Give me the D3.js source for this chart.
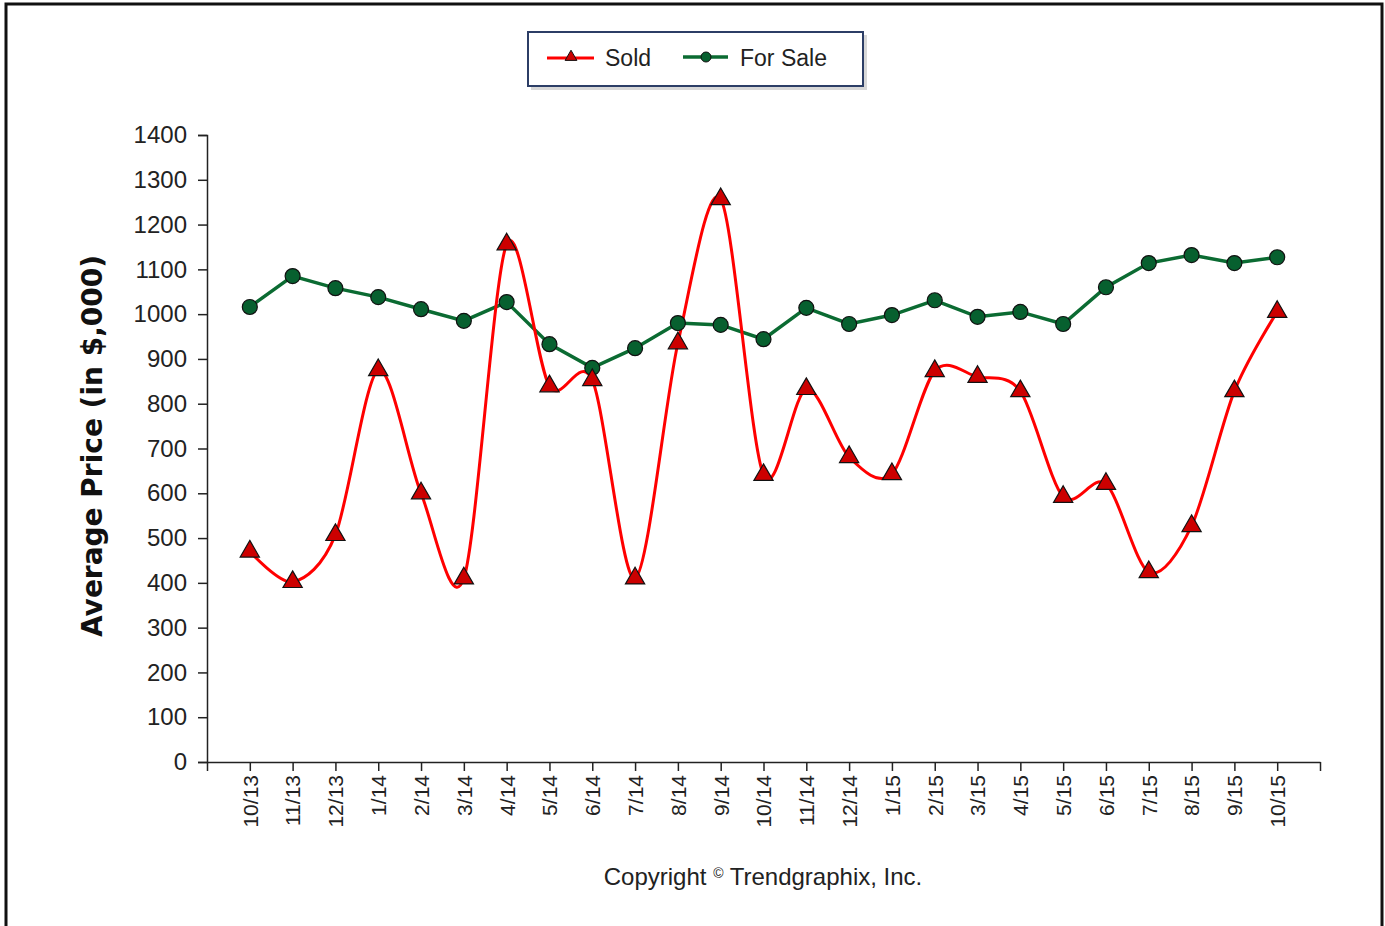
<!DOCTYPE html>
<html lang="en">
  <head>
    <meta charset="UTF-8" />
    <title>Average Price: Sold vs For Sale</title>
    <script src="https://d3js.org/d3.v7.min.js"></script>
    <style>
      body {
        margin: 0;
        background: #fff;
        font-family: 'Liberation Sans', Arial, sans-serif;
      }
      .tick text {
        fill: #222;
      }
    </style>
  </head>
  <body>
    <svg width="1385" height="926"></svg>

    <script>
      const months = [
        '10/13', '11/13', '12/13', '1/14', '2/14', '3/14', '4/14', '5/14', '6/14',
        '7/14', '8/14', '9/14', '10/14', '11/14', '12/14', '1/15', '2/15', '3/15',
        '4/15', '5/15', '6/15', '7/15', '8/15', '9/15', '10/15',
      ];
      const sold = [
        470, 402, 507, 875, 600, 410, 1156, 839, 853, 410, 935, 1257, 641,
        833, 681, 643, 873, 860, 828, 592, 621, 424, 527, 828, 1005,
      ];
      const forSale = [
        1016, 1085, 1058, 1038, 1011, 985, 1027, 933, 880, 924, 980, 976, 944,
        1014, 978, 998, 1031, 994, 1005, 978, 1060, 1114, 1132, 1114, 1127,
      ];
      const yTicks = [0, 100, 200, 300, 400, 500, 600, 700, 800, 900, 1000, 1100, 1200, 1300, 1400];

      const svg = d3.select('svg');

      // outer frame
      svg.append('rect')
        .attr('x', 6).attr('y', 4)
        .attr('width', 1376).attr('height', 940)
        .attr('fill', 'none')
        .attr('stroke', '#111')
        .attr('stroke-width', 3);

      const plotL = 207, plotR = 1320, plotT = 135, plotB = 762;

      // slot scale: index 0..26 across the axis, categories sit at 1..25
      const x = d3.scaleLinear().domain([0, months.length + 1]).range([plotL, plotR]);
      const y = d3.scaleLinear().domain([0, 1400]).range([plotB, plotT]);

      // y axis
      const yAxis = svg.append('g')
        .attr('transform', `translate(${plotL},0)`)
        .call(d3.axisLeft(y).tickValues(yTicks).tickFormat(d3.format('d')).tickSize(9).tickPadding(11));
      yAxis.selectAll('text').style('font-size', '24px').style('font-family', "'Liberation Sans', Arial, sans-serif");
      yAxis.selectAll('line, path').attr('stroke', '#222').attr('stroke-width', 1.5);

      // x axis
      const xAxis = svg.append('g')
        .attr('transform', `translate(0,${plotB})`)
        .call(
          d3.axisBottom(x)
            .tickValues(d3.range(0, months.length + 2))
            .tickSize(9)
            .tickSizeOuter(0)
            .tickFormat((d) => (d >= 1 && d <= months.length ? months[d - 1] : ''))
        );
      xAxis.selectAll('line, path').attr('stroke', '#222').attr('stroke-width', 1.5);
      xAxis.selectAll('text')
        .style('font-size', '21px')
        .style('font-family', "'Liberation Sans', Arial, sans-serif")
        .attr('transform', 'rotate(-90)')
        .attr('text-anchor', 'end')
        .attr('x', -13)
        .attr('y', 0)
        .attr('dy', '0.35em');

      // y axis title
      svg.append('text')
        .attr('transform', 'rotate(-90)')
        .attr('x', -446)
        .attr('y', 102)
        .attr('text-anchor', 'middle')
        .style('font-size', '28px')
        .style('font-weight', 'bold')
        .style('font-family', "'DejaVu Sans', Verdana, sans-serif")
        .attr('fill', '#111')
        .text('Average Price (in $,000)');

      // For Sale line
      const lineStraight = d3.line()
        .x((d, i) => x(i + 1))
        .y((d) => y(d));
      svg.append('path')
        .datum(forSale)
        .attr('d', lineStraight)
        .attr('fill', 'none')
        .attr('stroke', '#0b6b32')
        .attr('stroke-width', 3.5);

      // Sold spline
      const lineSpline = d3.line()
        .x((d, i) => x(i + 1))
        .y((d) => y(d))
        .curve(d3.curveCardinal.tension(0.1));
      svg.append('path')
        .datum(sold)
        .attr('d', lineSpline)
        .attr('fill', 'none')
        .attr('stroke', '#ff0000')
        .attr('stroke-width', 3);

      // markers
      svg.append('g')
        .selectAll('circle')
        .data(forSale)
        .enter()
        .append('circle')
        .attr('cx', (d, i) => x(i + 1))
        .attr('cy', (d) => y(d))
        .attr('r', 7.5)
        .attr('fill', '#07602f')
        .attr('stroke', '#111')
        .attr('stroke-width', 1.2);

      const tri = d3.symbol().type(d3.symbolTriangle).size(160);
      svg.append('g')
        .selectAll('path')
        .data(sold)
        .enter()
        .append('path')
        .attr('d', tri)
        .attr('transform', (d, i) => `translate(${x(i + 1)},${y(d)})`)
        .attr('fill', '#cc0000')
        .attr('stroke', '#111')
        .attr('stroke-width', 1.2);

      // legend
      const lg = svg.append('g');
      lg.append('rect')
        .attr('x', 531).attr('y', 35)
        .attr('width', 336).attr('height', 55)
        .attr('fill', '#c8c8c8')
        .attr('opacity', 0.7);
      lg.append('rect')
        .attr('x', 528).attr('y', 32)
        .attr('width', 335).attr('height', 54)
        .attr('fill', '#fff')
        .attr('stroke', '#2c3e66')
        .attr('stroke-width', 2);

      lg.append('line')
        .attr('x1', 547).attr('x2', 594).attr('y1', 58).attr('y2', 58)
        .attr('stroke', '#ff0000').attr('stroke-width', 3);
      lg.append('path')
        .attr('d', d3.symbol().type(d3.symbolTriangle).size(60))
        .attr('transform', 'translate(571,57)')
        .attr('fill', '#cc0000').attr('stroke', '#111').attr('stroke-width', 1);
      lg.append('text')
        .attr('x', 605).attr('y', 66)
        .style('font-size', '23px')
        .attr('fill', '#222')
        .text('Sold');

      lg.append('line')
        .attr('x1', 683).attr('x2', 728).attr('y1', 57).attr('y2', 57)
        .attr('stroke', '#0b6b32').attr('stroke-width', 3.5);
      lg.append('circle')
        .attr('cx', 706).attr('cy', 57).attr('r', 5)
        .attr('fill', '#07602f').attr('stroke', '#111').attr('stroke-width', 1);
      lg.append('text')
        .attr('x', 740).attr('y', 66)
        .style('font-size', '23px')
        .attr('fill', '#222')
        .text('For Sale');

      // copyright
      const cp = svg.append('text')
        .attr('x', 763).attr('y', 885)
        .attr('text-anchor', 'middle')
        .style('font-size', '24px')
        .attr('fill', '#222');
      cp.append('tspan').text('Copyright ');
      cp.append('tspan').attr('dy', -7).style('font-size', '14px').text('©');
      cp.append('tspan').attr('dy', 7).text(' Trendgraphix, Inc.');
    </script>
  </body>
</html>
